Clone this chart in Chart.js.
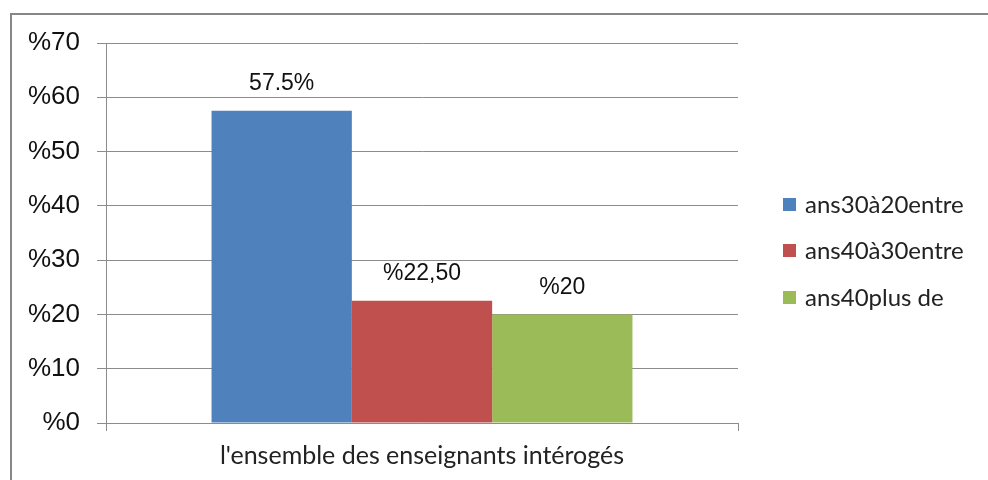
<!DOCTYPE html>
<html lang="fr">
<head>
    <meta charset="UTF-8">
    <title>Chart</title>
    <script src="https://cdn.jsdelivr.net/npm/chart.js"></script>
    <style>
        body { margin: 0; background: #fff; }
        #wrap { width: 988px; height: 480px; }
    </style>
</head>
<body>
    <div id="wrap"><canvas id="ageChart" width="988" height="480"></canvas></div>

    <script>
        // data
        const categories = ["l'ensemble des enseignants intérogés"];
        const seriesLabels = ['ans30à20entre', 'ans40à30entre', 'ans40plus de'];
        const seriesValues = [57.5, 22.5, 20];
        const valueLabels = ['57.5%', '%22,50', '%20'];
        const seriesColors = ['#4F81BD', '#C0504D', '#9BBB59'];
        const yMax = 70;
        const yStep = 10;

        const gridGray = '#8c8c8c';

        // frame round the chart (top and left only)
        const framePlugin = {
            id: 'frame',
            beforeDraw(chart) {
                const ctx = chart.ctx;
                ctx.save();
                ctx.strokeStyle = '#878787';
                ctx.lineWidth = 2;
                ctx.beginPath();
                ctx.moveTo(11, 480);
                ctx.lineTo(11, 14);
                ctx.lineTo(988, 14);
                ctx.stroke();
                ctx.restore();
            }
        };

        // text above each bar
        const valueLabelPlugin = {
            id: 'valueLabels',
            afterDatasetsDraw(chart) {
                const ctx = chart.ctx;
                ctx.save();
                ctx.font = '23px "Liberation Sans", Arial, sans-serif';
                ctx.fillStyle = '#111';
                ctx.textAlign = 'center';
                ctx.textBaseline = 'middle';
                chart.data.datasets.forEach((ds, i) => {
                    const bar = chart.getDatasetMeta(i).data[0];
                    ctx.fillText(valueLabels[i], bar.x, bar.y - 27);
                });
                ctx.restore();
            }
        };

        // legend on the right
        const legendPlugin = {
            id: 'sideLegend',
            afterDraw(chart) {
                const ctx = chart.ctx;
                ctx.save();
                ctx.font = '24px Lato, sans-serif';
                ctx.textBaseline = 'middle';
                const rowY = [205, 251, 298];
                chart.data.datasets.forEach((ds, i) => {
                    ctx.fillStyle = ds.backgroundColor;
                    ctx.fillRect(783, rowY[i] - 7, 13, 13);
                    ctx.fillStyle = '#222';
                    ctx.fillText(ds.label, 805, rowY[i]);
                });
                ctx.restore();
            }
        };

        const datasets = seriesLabels.map((label, i) => ({
            label: label,
            data: [seriesValues[i]],
            backgroundColor: seriesColors[i],
            categoryPercentage: 0.666,
            barPercentage: 1.0
        }));

        new Chart(document.getElementById('ageChart'), {
            type: 'bar',
            data: { labels: categories, datasets: datasets },
            options: {
                responsive: false,
                animation: false,
                layout: { padding: { top: 43, right: 250, left: 0, bottom: 0 } },
                plugins: {
                    legend: { display: false },
                    tooltip: { enabled: false }
                },
                scales: {
                    x: {
                        offset: true,
                        grid: {
                            offset: true,
                            drawOnChartArea: false,
                            color: gridGray,
                            tickLength: 8
                        },
                        border: { color: gridGray },
                        ticks: {
                            color: '#222',
                            padding: 10,
                            font: { family: 'Lato, sans-serif', size: 25 }
                        },
                        afterFit(scale) { scale.height = 57; }
                    },
                    y: {
                        min: 0,
                        max: yMax,
                        grid: { color: gridGray, tickLength: 9 },
                        border: { color: gridGray },
                        ticks: {
                            stepSize: yStep,
                            padding: 17,
                            color: '#111',
                            font: { family: '"Liberation Sans", Arial, sans-serif', size: 26 },
                            callback: v => '%' + v
                        },
                        afterFit(scale) { scale.width = 106; }
                    }
                }
            },
            plugins: [framePlugin, valueLabelPlugin, legendPlugin]
        });
    </script>
</body>
</html>
